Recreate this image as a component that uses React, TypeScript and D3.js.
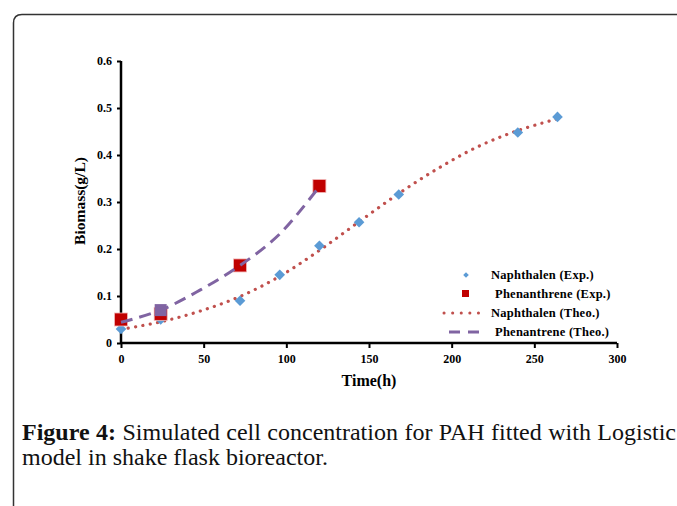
import React, { useEffect, useRef } from "react";
import * as d3 from "d3";

const naphExpTime = [0, 24, 72, 96, 120, 144, 168, 240, 264];
const naphExpBiomass = [0.03, 0.05, 0.09, 0.145, 0.207, 0.257, 0.316, 0.448, 0.481];

const phenExpTime = [0, 24, 72, 120];
const phenExpBiomass = [0.05, 0.062, 0.165, 0.334];

const naphTheoTime = [0, 24, 48, 72, 96, 120, 144, 168, 192, 216, 240, 264];
const naphTheoBiomass = [0.029, 0.045, 0.068, 0.099, 0.142, 0.197, 0.258, 0.318, 0.372, 0.418, 0.452, 0.477];

const phenTheoTime = [0, 24, 48, 72, 96, 120];
const phenTheoBiomass = [0.044, 0.07, 0.113, 0.165, 0.232, 0.333];

const xTicks = [0, 50, 100, 150, 200, 250, 300];
const yTicks = [0, 0.1, 0.2, 0.3, 0.4, 0.5, 0.6];

const legendLabels = ["Naphthalen (Exp.)", "Phenanthrene (Exp.)", "Naphthalen (Theo.)", "Phenantrene (Theo.)"];

const BLUE = "#5b9bd5";
const RED = "#c00000";
const DOT_RED = "#c0504d";
const PURPLE = "#8064a2";

export default function App() {
  const ref = useRef<SVGSVGElement>(null);

  useEffect(() => {
    const svg = d3.select(ref.current);
    svg.selectAll("*").remove();

    const x = d3.scaleLinear().domain([0, 300]).range([121, 617]);
    const y = d3.scaleLinear().domain([0, 0.6]).range([343, 61]);
    const font = "'Liberation Serif', 'Times New Roman', serif";

    // page frame
    svg.append("path")
      .attr("d", "M13.5,506 L13.5,23 Q13.5,14.5 22,14.5 L677,14.5")
      .attr("fill", "none")
      .attr("stroke", "#333")
      .attr("stroke-width", 1.5);

    // theoretical curves
    const line = d3.line<[number, number]>()
      .x((d) => x(d[0]))
      .y((d) => y(d[1]))
      .curve(d3.curveCatmullRom);

    svg.append("path")
      .datum(naphTheoTime.map((t, i) => [t, naphTheoBiomass[i]] as [number, number]))
      .attr("d", line)
      .attr("fill", "none")
      .attr("stroke", DOT_RED)
      .attr("stroke-width", 3.2)
      .attr("stroke-linecap", "round")
      .attr("stroke-dasharray", "0.1 7.3");

    // axes
    const yAxis = svg.append("g")
      .attr("transform", "translate(121,0)")
      .call(d3.axisLeft(y).tickValues(yTicks).tickSize(4).tickPadding(5)
        .tickFormat((d) => (d === 0 ? "0" : d3.format(".1f")(d as number))));
    const xAxis = svg.append("g")
      .attr("transform", "translate(0,343)")
      .call(d3.axisBottom(x).tickValues(xTicks).tickSize(5).tickPadding(6));

    [yAxis, xAxis].forEach((g) => {
      g.select(".domain").attr("stroke", "#000").attr("stroke-width", 2.5);
      g.selectAll(".tick line").attr("stroke", "#000").attr("stroke-width", 2);
      g.selectAll(".tick text")
        .attr("fill", "#000")
        .style("font-family", font)
        .style("font-weight", "bold")
        .style("font-size", "12px");
    });
    yAxis.select(".domain").attr("d", "M0,61V343");
    xAxis.select(".domain").attr("d", "M121,0H617");

    // experimental markers
    const diamond = d3.symbol().type(d3.symbolDiamond2).size(72);
    svg.append("g")
      .selectAll("path")
      .data(naphExpTime.map((t, i) => [t, naphExpBiomass[i]]))
      .join("path")
      .attr("d", diamond)
      .attr("transform", (d) => `translate(${x(d[0])},${y(d[1])})`)
      .attr("fill", BLUE);

    svg.append("g")
      .selectAll("rect")
      .data(phenExpTime.map((t, i) => [t, phenExpBiomass[i]]))
      .join("rect")
      .attr("x", (d) => x(d[0]) - 6.5)
      .attr("y", (d) => y(d[1]) - 6.5)
      .attr("width", 13)
      .attr("height", 13)
      .attr("fill", RED)
      .attr("stroke", "#f2b8b8")
      .attr("stroke-width", 0.8);

    // purple marker sitting on the dashed series at t=24
    svg.append("rect")
      .attr("x", x(phenTheoTime[1]) - 6)
      .attr("y", y(phenTheoBiomass[1]) - 6)
      .attr("width", 12)
      .attr("height", 12)
      .attr("fill", PURPLE);

    svg.append("path")
      .datum(phenTheoTime.map((t, i) => [t, phenTheoBiomass[i]] as [number, number]))
      .attr("d", line)
      .attr("fill", "none")
      .attr("stroke", PURPLE)
      .attr("stroke-width", 3)
      .attr("stroke-dasharray", "12 7");

    // axis titles
    svg.append("text")
      .attr("transform", "translate(85,201) rotate(-90)")
      .attr("text-anchor", "middle")
      .style("font-family", font)
      .style("font-weight", "bold")
      .style("font-size", "15.5px")
      .text("Biomass(g/L)");
    svg.append("text")
      .attr("x", 369)
      .attr("y", 386)
      .attr("text-anchor", "middle")
      .style("font-family", font)
      .style("font-weight", "bold")
      .style("font-size", "16px")
      .text("Time(h)");

    // legend
    const rowY = [275, 294, 313, 332];
    const textX = [491, 495, 491, 495];
    const lg = svg.append("g");
    lg.append("path")
      .attr("d", d3.symbol().type(d3.symbolDiamond2).size(20))
      .attr("transform", `translate(466,${rowY[0]})`)
      .attr("fill", BLUE);
    lg.append("rect")
      .attr("x", 462).attr("y", rowY[1] - 4).attr("width", 7).attr("height", 7)
      .attr("fill", RED);
    lg.append("line")
      .attr("x1", 444).attr("x2", 487).attr("y1", rowY[2]).attr("y2", rowY[2])
      .attr("stroke", DOT_RED).attr("stroke-width", 3).attr("stroke-linecap", "round")
      .attr("stroke-dasharray", "0.1 8.5");
    lg.append("line")
      .attr("x1", 449).attr("x2", 479).attr("y1", rowY[3]).attr("y2", rowY[3])
      .attr("stroke", PURPLE).attr("stroke-width", 3)
      .attr("stroke-dasharray", "11 8");
    lg.selectAll("text")
      .data(legendLabels)
      .join("text")
      .attr("x", (_, i) => textX[i])
      .attr("y", (_, i) => rowY[i] + 4)
      .style("font-family", font)
      .style("font-weight", "bold")
      .style("font-size", "12.5px")
      .style("letter-spacing", "0.25px")
      .text((d) => d);

    // caption, first line justified to the right edge
    const cap = svg.append("text")
      .attr("x", 22)
      .attr("y", 440)
      .style("font-family", font)
      .style("font-size", "24px")
      .attr("fill", "#111");
    cap.append("tspan").style("font-weight", "bold").text("Figure 4:");
    cap.append("tspan").text(" Simulated cell concentration for PAH fitted with Logistic");
    const node = cap.node() as SVGTextElement;
    const natural = node.getComputedTextLength();
    const gaps = 9;
    cap.style("word-spacing", `${(654 - natural) / gaps}px`);

    svg.append("text")
      .attr("x", 22)
      .attr("y", 465)
      .style("font-family", font)
      .style("font-size", "24px")
      .attr("fill", "#111")
      .text("model in shake flask bioreactor.");
  }, []);

  return (
    <svg
      ref={ref}
      width={677}
      height={506}
      style={{ position: "absolute", left: 0, top: 0, background: "#fff" }}
    />
  );
}
